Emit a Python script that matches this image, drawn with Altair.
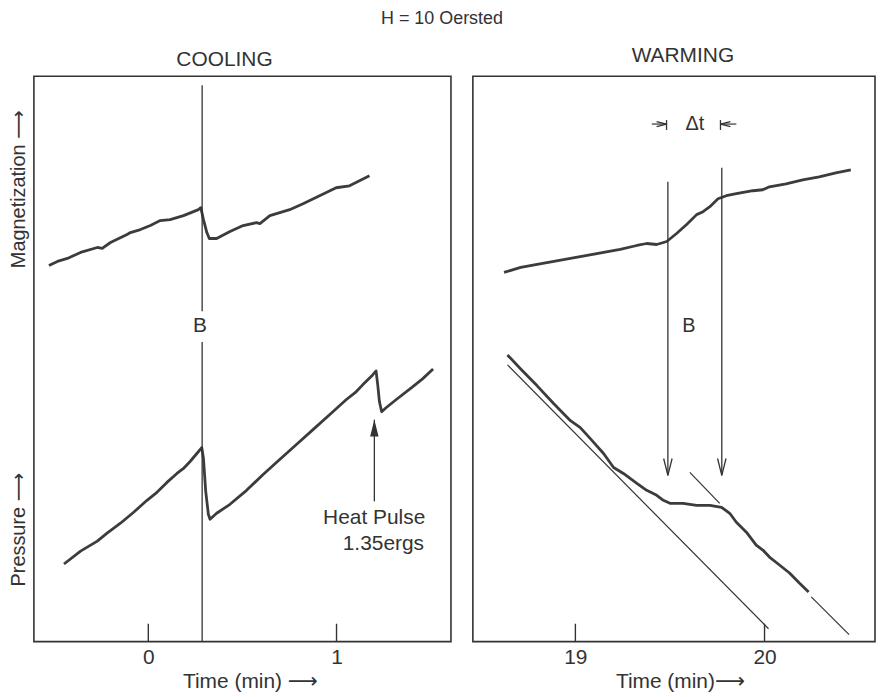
import altair as alt
import pandas as pd

FONT = "Liberation Sans, DejaVu Sans"
INK = "#333333"

# ---------------- COOLING panel (time in min, signal in arbitrary units) ----------------
cool_mag_t = [-0.528, -0.483, -0.430, -0.360, -0.271, -0.245, -0.201, -0.113, -0.095, -0.042,
              0.011, 0.063, 0.116, 0.187, 0.240, 0.266, 0.279, 0.293, 0.311, 0.324, 0.363,
              0.434, 0.504, 0.575, 0.593, 0.646, 0.751, 0.822, 0.910, 0.998, 1.069, 1.122, 1.175]
cool_mag_v = [378, 382, 385, 391, 396, 395, 401, 409, 411, 414,
              418, 423, 424, 428, 432, 434, 436, 424, 411, 405, 405,
              412, 418, 421, 420, 428, 434, 440, 448, 456, 458, 463, 468]

cool_pres_t = [-0.448, -0.360, -0.271, -0.219, -0.148, -0.078, -0.007, 0.046, 0.099, 0.152,
               0.187, 0.222, 0.258, 0.284, 0.293, 0.305, 0.319, 0.328, 0.363, 0.434, 0.522,
               0.610, 0.698, 0.787, 0.875, 0.963, 1.051, 1.104, 1.139, 1.192, 1.210, 1.219,
               1.228, 1.240, 1.263, 1.316, 1.404, 1.457, 1.513]
cool_pres_v = [78, 91, 101, 109, 119, 130, 142, 150, 160, 169,
               174, 181, 189, 195, 184, 151, 128, 123, 129, 138, 152,
               168, 183, 198, 213, 228, 243, 251, 258, 268, 272, 258,
               241, 231, 235, 243, 256, 264, 274]

cool_ticks = [0, 1]
cool_rule_t = [0.286, 0.286, 1.201]          # B line (two pieces) and heat-pulse arrow shaft
cool_rule_v = [559, 301, 141]
cool_rule_v2 = [332, 0, 223]
cool_text = ["B", "Heat Pulse", "1.35ergs"]
cool_text_t = [0.275, 1.200, 1.249]
cool_text_v = [317, 124, 98]
cool_head_t = [1.201]
cool_head_v = [223]
cool_head_angle = [180]

# ---------------- WARMING panel ----------------
warm_mag_t = [18.623, 18.711, 18.798, 18.886, 18.974, 19.062, 19.149, 19.237, 19.325, 19.377,
              19.430, 19.483, 19.535, 19.588, 19.641, 19.675, 19.711, 19.754, 19.798, 19.851,
              19.938, 19.991, 20.026, 20.114, 20.202, 20.289, 20.377, 20.456]
warm_mag_v = [371, 376, 379, 382, 385, 388, 391, 394, 398, 400,
              399, 402, 410, 419, 429, 432, 437, 445, 448, 450,
              453, 454, 457, 460, 464, 467, 471, 474]

warm_pres_t = [18.641, 18.711, 18.798, 18.886, 18.974, 19.026, 19.079, 19.149, 19.202, 19.254,
               19.325, 19.377, 19.430, 19.465, 19.500, 19.570, 19.641, 19.711, 19.773, 19.816,
               19.851, 19.904, 19.956, 19.991, 20.026, 20.079, 20.132, 20.184, 20.233]
warm_pres_v = [288, 274, 257, 239, 222, 215, 204, 189, 175, 169,
               159, 152, 147, 142, 139, 139, 137, 137, 135, 129,
               120, 110, 97, 92, 85, 77, 69, 59, 50]

# thin extrapolation lines
warm_guide_t = [18.641, 19.605, 20.247]
warm_guide_v = [278, 170, 45]
warm_guide_t2 = [20.021, 19.763, 20.447]
warm_guide_v2 = [13, 139, 7]

warm_ticks = [19, 20]
warm_rule_t = [19.489, 19.774, 19.482, 19.767]   # two B arrows, two delta-t bars
warm_rule_v = [462, 476, 524, 524]
warm_rule_v2 = [167, 167, 514, 514]
warm_dt_t = [19.404, 19.767]                      # delta-t arrow shafts
warm_dt_t2 = [19.482, 19.851]
warm_dt_v = [520, 520]
warm_text = ["B", "\u0394t"]
warm_text_t = [19.60, 19.632]
warm_text_v = [317, 520]
warm_head_t = [19.489, 19.774, 19.482, 19.767]
warm_head_v = [167, 167, 520, 520]
warm_head_angle = [0, 0, 270, 90]
warm_head_size = [289, 289, 100, 100]

V_DOMAIN = [0, 568]
COOL_DOMAIN = [-0.608, 1.608]
WARM_DOMAIN = [18.458, 20.584]

ARROW = "M-0.5,-2L0,0L0.5,-2"
ARROW_FILLED = "M-0.5,-2L0,0L0.5,-2Z"


def panel(t_dom, ticks, xtitle, title_x, ylabels):
    xs = alt.Scale(domain=t_dom, nice=False, zero=False)
    ys = alt.Scale(domain=V_DOMAIN, nice=False, zero=False)
    xaxis = alt.Axis(values=ticks, format="d", ticks=False, tickSize=0, domain=False, grid=False,
                     labelFontSize=21, labelPadding=5, labelColor=INK, labelFont=FONT,
                     title=xtitle, titleFontSize=21, titleFontWeight="normal", titleColor=INK,
                     titleFont=FONT, titlePadding=3, titleX=title_x)
    if ylabels:
        yaxis = alt.Axis(values=[113, 455],
                         labelExpr="datum.value < 300 ? 'Pressure \u27f6' : 'Magnetization \u27f6'",
                         labelAngle=270, labelAlign="center", labelBaseline="bottom",
                         labelFontSize=20, labelPadding=5, labelColor=INK, labelFont=FONT,
                         ticks=False, tickSize=0, domain=False, grid=False, title=None)
    else:
        yaxis = None
    X = lambda f="t:Q": alt.X(f, scale=xs, axis=xaxis)
    Y = lambda f="v:Q": alt.Y(f, scale=ys, axis=yaxis)
    return X, Y


def build_cool():
    X, Y = panel(COOL_DOMAIN, cool_ticks, "Time (min) \u27f6", 217, True)
    mag = alt.Chart(pd.DataFrame({"t": cool_mag_t, "v": cool_mag_v, "i": range(len(cool_mag_t))})).mark_line(
        color="#3c3c3c", strokeWidth=2.8, strokeJoin="round").encode(x=X(), y=Y(), order="i:Q")
    pres = alt.Chart(pd.DataFrame({"t": cool_pres_t, "v": cool_pres_v, "i": range(len(cool_pres_t))})).mark_line(
        color="#3c3c3c", strokeWidth=2.8, strokeJoin="round").encode(x=X(), y=Y(), order="i:Q")
    ticks = alt.Chart(pd.DataFrame({"t": cool_ticks, "v": [0, 0], "v2": [18, 18]})).mark_rule(
        color=INK, strokeWidth=1.4).encode(x=X(), y=Y(), y2="v2:Q")
    rules = alt.Chart(pd.DataFrame({"t": cool_rule_t, "v": cool_rule_v, "v2": cool_rule_v2})).mark_rule(
        color=INK, strokeWidth=1.3).encode(x=X(), y=Y(), y2="v2:Q")
    texts = alt.Chart(pd.DataFrame({"t": cool_text_t, "v": cool_text_v, "s": cool_text})).mark_text(
        fontSize=21, font=FONT, color=INK, align="center", baseline="middle").encode(
        x=X(), y=Y(), text="s:N")
    heads = alt.Chart(pd.DataFrame({"t": cool_head_t, "v": cool_head_v, "a": cool_head_angle})).mark_point(
        shape=ARROW_FILLED, filled=True, color=INK, size=289, opacity=1).encode(
        x=X(), y=Y(), angle=alt.Angle("a:Q", scale=None))
    return alt.layer(mag, pres, ticks, rules, texts, heads).properties(
        width=419, height=568,
        title=alt.TitleParams("COOLING", fontSize=21, fontWeight="normal", font=FONT, color=INK,
                              anchor="middle", offset=6, dx=-18))


def build_warm():
    X, Y = panel(WARM_DOMAIN, warm_ticks, "Time (min)\u27f6", 208, False)
    mag = alt.Chart(pd.DataFrame({"t": warm_mag_t, "v": warm_mag_v, "i": range(len(warm_mag_t))})).mark_line(
        color="#3c3c3c", strokeWidth=2.8, strokeJoin="round").encode(x=X(), y=Y(), order="i:Q")
    pres = alt.Chart(pd.DataFrame({"t": warm_pres_t, "v": warm_pres_v, "i": range(len(warm_pres_t))})).mark_line(
        color="#3c3c3c", strokeWidth=2.8, strokeJoin="round").encode(x=X(), y=Y(), order="i:Q")
    ticks = alt.Chart(pd.DataFrame({"t": warm_ticks, "v": [0, 0], "v2": [18, 18]})).mark_rule(
        color=INK, strokeWidth=1.4).encode(x=X(), y=Y(), y2="v2:Q")
    rules = alt.Chart(pd.DataFrame({"t": warm_rule_t, "v": warm_rule_v, "v2": warm_rule_v2})).mark_rule(
        color=INK, strokeWidth=1.3).encode(x=X(), y=Y(), y2="v2:Q")
    guides = alt.Chart(pd.DataFrame({"t": warm_guide_t, "v": warm_guide_v,
                                     "t2": warm_guide_t2, "v2": warm_guide_v2})).mark_rule(
        color=INK, strokeWidth=1.2).encode(x=X(), y=Y(), x2="t2:Q", y2="v2:Q")
    dt = alt.Chart(pd.DataFrame({"t": warm_dt_t, "t2": warm_dt_t2, "v": warm_dt_v})).mark_rule(
        color=INK, strokeWidth=1.2).encode(x=X(), x2="t2:Q", y=Y())
    texts = alt.Chart(pd.DataFrame({"t": warm_text_t, "v": warm_text_v, "s": warm_text})).mark_text(
        fontSize=20, font=FONT, color=INK, align="center", baseline="middle").encode(
        x=X(), y=Y(), text="s:N")
    heads = alt.Chart(pd.DataFrame({"t": warm_head_t, "v": warm_head_v, "a": warm_head_angle,
                                    "s": warm_head_size})).mark_point(
        shape=ARROW, filled=False, color=INK, strokeWidth=1.3, opacity=1).encode(
        x=X(), y=Y(), angle=alt.Angle("a:Q", scale=None), size=alt.Size("s:Q", scale=None))
    return alt.layer(mag, pres, ticks, rules, guides, dt, texts, heads).properties(
        width=404, height=568,
        title=alt.TitleParams("WARMING", fontSize=21, fontWeight="normal", font=FONT, color=INK,
                              anchor="middle", offset=10, dx=9))


chart = alt.hconcat(build_cool(), build_warm(), spacing=20).properties(
    padding={"top": 0, "left": 0, "right": 0, "bottom": 0},
    background="white",
    title=alt.TitleParams("H = 10 Oersted", fontSize=18, fontWeight="normal", font=FONT,
                          color=INK, anchor="middle", offset=17),
).configure_view(stroke=INK, strokeWidth=1.6, fill=None)

chart.save("out.html", embed_options={"renderer": "svg", "actions": False})
